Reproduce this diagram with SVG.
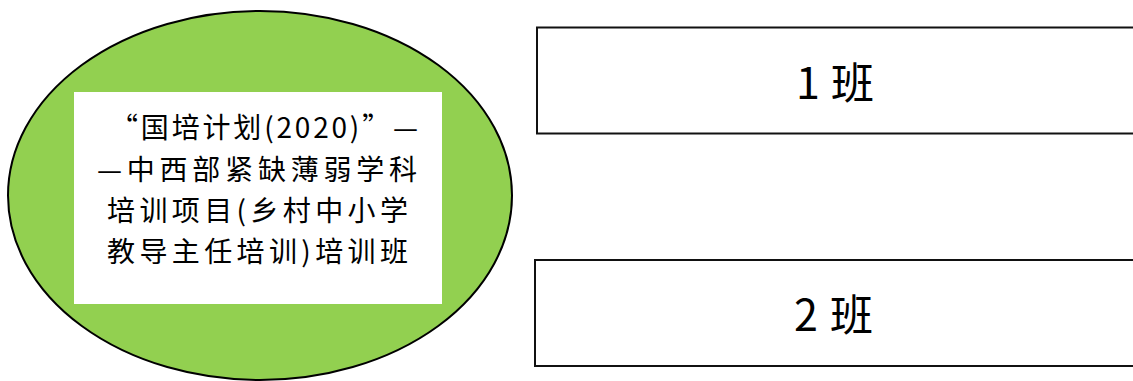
<svg xmlns="http://www.w3.org/2000/svg" width="1133" height="381" viewBox="0 0 1133 381">
<style>
.main{font-family:"Noto Sans CJK SC","Liberation Sans",sans-serif;font-size:28px;fill:#000}
.cls{font-family:"Noto Sans CJK SC","Liberation Sans",sans-serif;font-size:43px;fill:#000}
.box{fill:#fff;stroke:#111;stroke-width:2}
</style>
<rect width="1133" height="381" fill="#fff"/>
<g id="project">
<ellipse cx="260" cy="195.5" rx="252" ry="184.5" fill="#92D050" stroke="#000" stroke-width="2"/>
<rect x="74" y="92" width="368" height="212" fill="#fff"/>
<text class="main" x="110" y="138" textLength="308" lengthAdjust="spacing">“国培计划(2020)”—</text>
<text class="main" x="97" y="180" textLength="320" lengthAdjust="spacing">—中西部紧缺薄弱学科</text>
<text class="main" x="107" y="221" textLength="301" lengthAdjust="spacing">培训项目(乡村中小学</text>
<text class="main" x="107" y="262" textLength="301" lengthAdjust="spacing">教导主任培训)培训班</text>
</g>
<g id="class1">
<rect class="box" x="537" y="27.5" width="620" height="106"/>
<text class="cls" x="796" y="99">1<tspan x="831">班</tspan></text>
</g>
<g id="class2">
<rect class="box" x="535" y="260" width="620" height="106"/>
<text class="cls" x="794" y="331">2<tspan x="830">班</tspan></text>
</g>
<g id="connectors"></g>
</svg>
